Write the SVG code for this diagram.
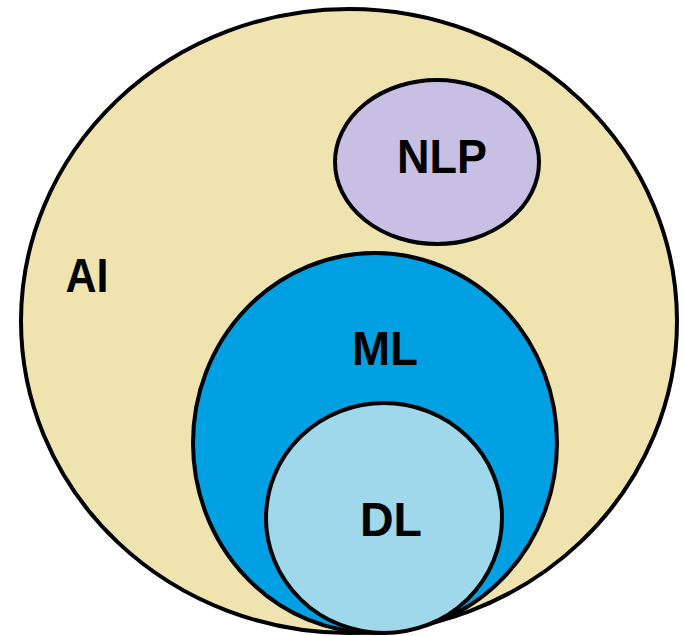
<svg xmlns="http://www.w3.org/2000/svg" width="684" height="636" viewBox="0 0 684 636">
<style>
.s{stroke:#000;stroke-width:4}
.t{font-family:"Liberation Sans",Arial,sans-serif;font-weight:bold;font-size:48px;fill:#000;text-anchor:middle}
</style>
<rect width="684" height="636" fill="#fff"/>
<g id="AI">
<ellipse class="s" cx="349" cy="321" rx="328" ry="312" fill="#EFE3AF"/>
<text class="t" x="87" y="292" textLength="43" lengthAdjust="spacingAndGlyphs">AI</text>
</g>
<g id="NLP">
<ellipse class="s" cx="437" cy="162" rx="102" ry="82" fill="#C8C0E4"/>
<text class="t" x="442" y="173" textLength="90" lengthAdjust="spacingAndGlyphs">NLP</text>
</g>
<g id="ML">
<ellipse class="s" cx="375" cy="443" rx="182" ry="190" fill="#00A0E3"/>
<text class="t" x="385" y="365" textLength="66" lengthAdjust="spacingAndGlyphs">ML</text>
</g>
<g id="DL">
<ellipse class="s" cx="384" cy="518" rx="118" ry="115" fill="#9ED8EA"/>
<text class="t" x="391" y="536" textLength="62" lengthAdjust="spacingAndGlyphs">DL</text>
</g>
<g id="connectors"></g>
</svg>
